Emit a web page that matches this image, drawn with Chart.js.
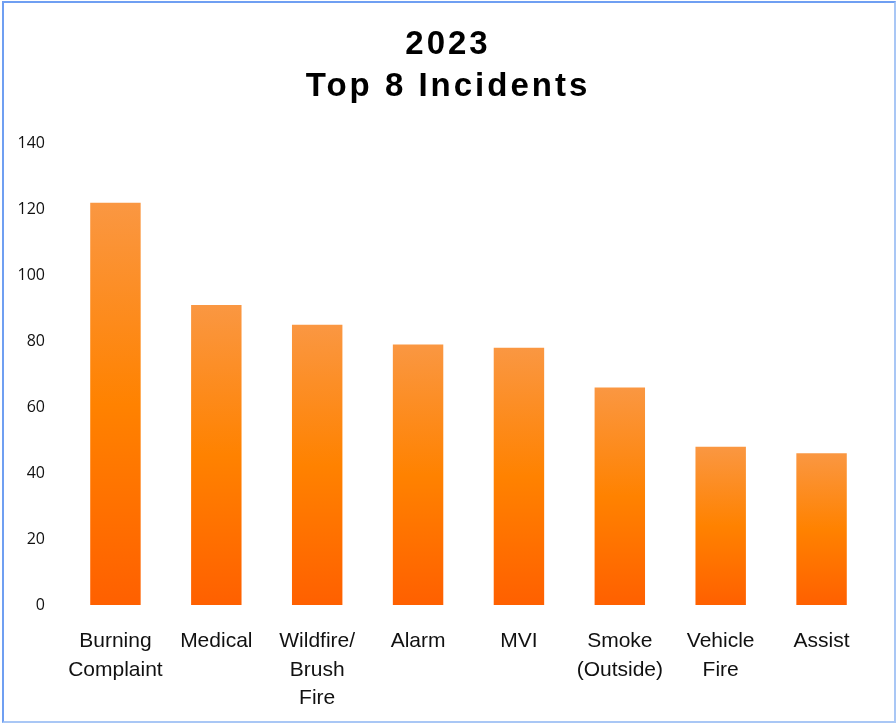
<!DOCTYPE html>
<html>
<head>
<meta charset="utf-8">
<script src="https://cdn.jsdelivr.net/npm/chart.js@4"></script>
<style>
  html, body { margin: 0; padding: 0; background: #fff; }
  #wrap { position: relative; width: 896px; height: 723px; }
  #frame {
    position: absolute; left: 2px; top: 1px; width: 890px; height: 718px;
    border-top: 2px solid #6f9ff2; border-left: 2px solid #6f9ff2;
    border-right: 2px solid #a9c7f5; border-bottom: 2px solid #a9c7f5;
    pointer-events: none;
  }
</style>
</head>
<body>
<div id="wrap">
  <canvas id="incidents" width="896" height="723"></canvas>
  <div id="frame"></div>
</div>
<script>
var BAR_TOP = "#fa9742"
var BAR_MID = "#ff8200"
var BAR_BOTTOM = "#ff6000"

var categories = [
  ["Burning", "Complaint"],
  "Medical",
  ["Wildfire/", "Brush", "Fire"],
  "Alarm",
  "MVI",
  ["Smoke", "(Outside)"],
  ["Vehicle", "Fire"],
  "Assist"
]
var incidents = [122, 91, 85, 79, 78, 66, 48, 46]
var yTicks = [0, 20, 40, 60, 80, 100, 120, 140]

// each bar gets its own light-top / dark-bottom fade
function barFill(c) {
  var chart = c.chart
  var y = chart.scales.y
  if (!y || c.dataIndex === undefined) return BAR_MID
  var top = y.getPixelForValue(c.dataset.data[c.dataIndex])
  var bottom = y.getPixelForValue(0)
  if (!isFinite(top) || !isFinite(bottom) || top === bottom) return BAR_MID
  var g = chart.ctx.createLinearGradient(0, top, 0, bottom)
  g.addColorStop(0, BAR_TOP)
  g.addColorStop(0.5, BAR_MID)
  g.addColorStop(1, BAR_BOTTOM)
  return g
}

// title in the picture is set with a bit of tracking
var spacedTitle = {
  id: 'spacedTitle',
  afterInit: function (chart) {
    var block = chart.titleBlock
    if (!block) return
    var draw = block.draw
    block.draw = function () {
      chart.ctx.save()
      chart.ctx.letterSpacing = '3px'
      draw.apply(this, arguments)
      chart.ctx.restore()
    }
  }
}

var ctx = document.getElementById("incidents")
var chart = new Chart(ctx, {
  type: 'bar',
  data: {
    labels: categories,
    datasets: [{
      data: incidents,
      backgroundColor: barFill,
      borderWidth: 0,
      barPercentage: 0.5,
      categoryPercentage: 1
    }]
  },
  options: {
    responsive: false,
    animation: false,
    layout: { padding: 0 },
    plugins: {
      legend: { display: false },
      tooltip: { enabled: false },
      title: {
        display: true,
        text: ["2023", "Top 8 Incidents"],
        color: "#000",
        font: { family: "'Liberation Sans', Arial, sans-serif", size: 33, weight: 'bold', lineHeight: 1.28 },
        padding: { top: 24, bottom: 35 }
      }
    },
    scales: {
      y: {
        min: 0,
        max: 140,
        afterBuildTicks: function (scale) {
          scale.ticks = yTicks.map(function (v) { return { value: v } })
        },
        afterFit: function (scale) { scale.width = 65 },
        grid: { display: false, drawTicks: false },
        border: { display: false },
        ticks: {
          color: "#111",
          padding: 20,
          font: { family: "'Open Sans', sans-serif", size: 16 }
        }
      },
      // empty right-hand margin so the plot ends where the picture's does
      yRight: {
        position: 'right',
        afterFit: function (scale) { scale.width = 24 },
        grid: { display: false, drawTicks: false },
        border: { display: false },
        ticks: { display: false }
      },
      x: {
        afterFit: function (scale) { scale.height = 118 },
        grid: { display: false, drawTicks: false },
        border: { display: false },
        ticks: {
          color: "#111",
          padding: 22,
          maxRotation: 0,
          autoSkip: false,
          font: { family: "'Liberation Sans', Arial, sans-serif", size: 21, lineHeight: 1.36 }
        }
      }
    }
  },
  plugins: [spacedTitle]
})
</script>
</body>
</html>
